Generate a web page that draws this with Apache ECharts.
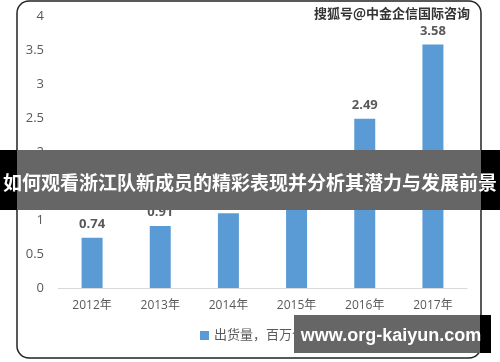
<!DOCTYPE html>
<html><head><meta charset="utf-8">
<script src="https://cdn.jsdelivr.net/npm/echarts@6/dist/echarts.min.js"></script>
<style>html,body{margin:0;padding:0;background:#fff}#c{width:500px;height:362px}</style>
</head><body><div id="c"></div>
<script>
const categories = ['2012年','2013年','2014年','2015年','2016年','2017年'];
const shipments = [0.74, 0.91, 1.1, 1.17, 2.49, 3.58];
const seriesName = '出货量，百万个';
const bannerText = '如何观看浙江队新成员的精彩表现并分析其潜力与发展前景';
const sourceText = '搜狐号@中金企信国际咨询';
const siteText = 'www.org-kaiyun.com';

const chart = echarts.init(document.getElementById('c'));
const txtFont = '"Open Sans","Noto Sans CJK SC",sans-serif';
chart.setOption({
  animation: false,
  textStyle: {fontFamily: txtFont},
  grid: {left: 58, right: 33, top: 16, bottom: 74},
  legend: {
    bottom: 15, left: 195, itemWidth: 9, itemHeight: 9, itemGap: 4,
    icon: 'rect',
    textStyle: {color: '#595959', fontSize: 13, fontFamily: txtFont}
  },
  xAxis: {
    type: 'category', data: categories,
    axisLine: {lineStyle: {color: '#d9d9d9', width: 1}},
    axisTick: {show: false},
    axisLabel: {color: '#595959', fontSize: 12, margin: 12}
  },
  yAxis: {
    type: 'value', min: 0, max: 4, interval: 0.5,
    axisLine: {show: false}, axisTick: {show: false},
    splitLine: {show: false},
    axisLabel: {color: '#595959', fontSize: 13, margin: 14}
  },
  series: [{
    name: seriesName, type: 'bar', data: shipments, barWidth: 21,
    itemStyle: {color: '#5b9bd5'},
    label: {show: true, position: 'top', color: '#595959', fontSize: 13, fontWeight: 'bold', distance: 7}
  }],
  graphic: [
    {type: 'rect', shape: {x: 17, y: 1, width: 464, height: 357, r: 12}, style: {fill: 'none', stroke: '#222', lineWidth: 1.5}, z: 50},
    {type: 'text', left: 313, top: 6, style: {text: sourceText, fill: '#333', stroke: '#fff', lineWidth: 2, font: 'bold 13px "Noto Sans CJK SC"'}, z: 60},
    {type: 'rect', shape: {x: 0, y: 150, width: 500, height: 60}, style: {fill: '#000'}, z: 70},
    {type: 'rect', shape: {x: 17, y: 150, width: 464, height: 60}, style: {fill: '#fff'}, z: 71},
    {type: 'rect', shape: {x: 17, y: 150, width: 464, height: 60}, style: {fill: 'rgba(0,0,0,0.6)'}, z: 72, silent: true},
    {type: 'text', x: 250, y: 183, style: {text: bannerText, fill: '#fff', font: 'bold 19px "Noto Sans CJK SC"', align: 'center', verticalAlign: 'middle'}, z: 80},
    {type: 'rect', shape: {x: 294, y: 315, width: 197, height: 38}, style: {fill: '#000'}, z: 70},
    {type: 'rect', shape: {x: 294, y: 315, width: 186, height: 38}, style: {fill: '#666'}, z: 71},
    {type: 'text', x: 391, y: 336, style: {text: siteText, fill: '#fff', font: 'bold 18px "Liberation Sans"', align: 'center', verticalAlign: 'middle'}, z: 80}
  ]
});
</script></body></html>
